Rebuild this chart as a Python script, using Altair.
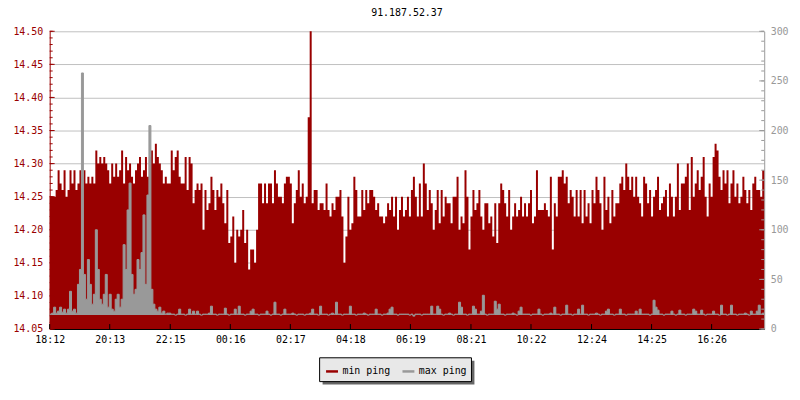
import altair as alt
import pandas as pd

FONT = "DejaVu Sans Mono"
title_text = "91.187.52.37"
start_stamp = "2024-01-01 18:12:00"
step_minutes = 4

min_ping = [
    14.25, 14.25, 14.25, 14.26, 14.29, 14.27, 14.26, 14.29, 14.25, 14.26,
    14.29, 14.27, 14.29, 14.26, 14.27, 14.29, 14.28, 14.29, 14.27, 14.28,
    14.27, 14.28, 14.27, 14.32, 14.30, 14.31, 14.30, 14.31, 14.30, 14.29,
    14.27, 14.30, 14.28, 14.30, 14.28, 14.29, 14.32, 14.27, 14.31, 14.29,
    14.30, 14.28, 14.27, 14.29, 14.30, 14.31, 14.28, 14.29, 14.31, 14.28,
    14.31, 14.32, 14.30, 14.33, 14.31, 14.30, 14.29, 14.27, 14.28, 14.27,
    14.27, 14.32, 14.29, 14.31, 14.32, 14.28, 14.27, 14.27, 14.31, 14.26,
    14.31, 14.30, 14.24, 14.26, 14.27, 14.26, 14.27, 14.20, 14.26, 14.23,
    14.24, 14.28, 14.26, 14.23, 14.26, 14.25, 14.27, 14.24, 14.21, 14.26,
    14.18, 14.19, 14.22, 14.15, 14.20, 14.19, 14.20, 14.23, 14.18, 14.20,
    14.14, 14.17, 14.17, 14.15, 14.20, 14.27, 14.27, 14.24, 14.27, 14.24,
    14.27, 14.27, 14.24, 14.29, 14.27, 14.25, 14.25, 14.24, 14.27, 14.28,
    14.28, 14.27, 14.21, 14.24, 14.26, 14.29, 14.25, 14.27, 14.24, 14.25,
    14.37, 14.50, 14.24, 14.26, 14.26, 14.23, 14.24, 14.24, 14.23, 14.27,
    14.23, 14.22, 14.24, 14.23, 14.25, 14.25, 14.26, 14.22, 14.15, 14.19,
    14.25, 14.20, 14.21, 14.28, 14.26, 14.22, 14.22, 14.26, 14.23, 14.26,
    14.24, 14.26, 14.26, 14.25, 14.23, 14.24, 14.22, 14.22, 14.21, 14.22,
    14.24, 14.23, 14.25, 14.22, 14.25, 14.20, 14.23, 14.25, 14.22, 14.23,
    14.25, 14.22, 14.26, 14.28, 14.25, 14.22, 14.27, 14.22, 14.30, 14.27,
    14.23, 14.26, 14.24, 14.20, 14.23, 14.26, 14.21, 14.26, 14.22, 14.25,
    14.24, 14.24, 14.21, 14.25, 14.25, 14.28, 14.20, 14.22, 14.21, 14.29,
    14.25, 14.17, 14.22, 14.26, 14.23, 14.24, 14.26, 14.22, 14.20, 14.24,
    14.24, 14.21, 14.22, 14.19, 14.24, 14.18, 14.24, 14.27, 14.26, 14.24,
    14.22, 14.26, 14.20, 14.22, 14.24, 14.22, 14.23, 14.25, 14.22, 14.24,
    14.22, 14.24, 14.26, 14.21, 14.22, 14.29, 14.23, 14.23, 14.23, 14.24,
    14.23, 14.22, 14.28, 14.17, 14.24, 14.22, 14.28, 14.28, 14.29, 14.27,
    14.28, 14.24, 14.26, 14.25, 14.22, 14.26, 14.22, 14.26, 14.21, 14.26,
    14.22, 14.24, 14.21, 14.26, 14.24, 14.28, 14.26, 14.24, 14.20, 14.28,
    14.23, 14.25, 14.21, 14.26, 14.22, 14.24, 14.24, 14.27, 14.28, 14.26,
    14.30, 14.28, 14.26, 14.28, 14.25, 14.28, 14.25, 14.24, 14.22, 14.28,
    14.27, 14.24, 14.26, 14.22, 14.25, 14.26, 14.28, 14.23, 14.24, 14.25,
    14.26, 14.22, 14.27, 14.25, 14.22, 14.25, 14.30, 14.23, 14.27, 14.27,
    14.28, 14.30, 14.23, 14.31, 14.25, 14.27, 14.29, 14.26, 14.28, 14.31,
    14.25, 14.22, 14.27, 14.25, 14.31, 14.33, 14.32, 14.28, 14.26, 14.29,
    14.27, 14.29, 14.24, 14.27, 14.29, 14.25, 14.27, 14.24, 14.25, 14.28,
    14.26, 14.24, 14.26, 14.23, 14.27, 14.28, 14.26, 14.26, 14.25, 14.29,
]

max_ping = [
    15, 16, 22, 16, 18, 22, 17, 20, 16, 20, 38, 18, 20, 16, 45, 60, 258, 55, 30, 70,
    45, 25, 35, 100, 60, 30, 25, 35, 55, 22, 35, 20, 18, 30, 35, 22, 30, 85, 60, 120,
    147, 55, 35, 40, 70, 60, 77, 115, 45, 135, 205, 40, 25, 20, 18, 22, 16, 18, 15, 16,
    16, 15, 15, 14, 15, 20, 15, 15, 14, 15, 20, 15, 18, 15, 18, 15, 14, 15, 15, 15,
    16, 23, 15, 15, 14, 15, 15, 15, 21, 15, 14, 15, 15, 20, 15, 23, 15, 15, 14, 15,
    15, 18, 20, 15, 15, 14, 15, 15, 15, 18, 15, 14, 15, 27, 15, 15, 14, 15, 20, 15,
    15, 15, 16, 15, 14, 15, 15, 15, 14, 15, 15, 16, 20, 15, 15, 14, 23, 15, 15, 15,
    14, 15, 16, 15, 27, 15, 15, 14, 15, 15, 15, 23, 15, 15, 14, 15, 15, 15, 16, 15,
    14, 15, 15, 15, 20, 15, 15, 14, 15, 15, 16, 20, 22, 15, 15, 14, 15, 15, 15, 15,
    15, 14, 15, 13, 15, 15, 15, 14, 15, 15, 15, 15, 23, 15, 15, 23, 20, 15, 14, 15,
    15, 16, 15, 14, 15, 15, 27, 22, 15, 15, 14, 15, 15, 23, 20, 15, 15, 18, 34, 15,
    14, 15, 15, 15, 28, 20, 25, 15, 15, 14, 15, 15, 15, 16, 15, 14, 18, 22, 15, 15,
    15, 15, 14, 15, 15, 15, 20, 15, 14, 15, 15, 15, 16, 15, 22, 15, 15, 14, 15, 15,
    24, 15, 15, 14, 15, 15, 20, 15, 24, 15, 15, 14, 15, 15, 15, 16, 15, 14, 15, 15,
    18, 20, 15, 15, 14, 15, 15, 20, 15, 15, 14, 15, 15, 15, 15, 18, 15, 20, 15, 15,
    15, 15, 14, 15, 29, 22, 19, 15, 15, 14, 15, 15, 15, 18, 15, 14, 15, 19, 15, 15,
    14, 15, 15, 15, 20, 18, 15, 15, 19, 15, 14, 15, 15, 15, 18, 15, 15, 14, 24, 15,
    15, 14, 15, 24, 15, 15, 14, 15, 15, 15, 16, 15, 14, 18, 15, 15, 18, 24, 15, 16,
]

x_labels = ["18:12", "20:13", "22:15", "00:16", "02:17", "04:18",
            "06:19", "08:21", "10:22", "12:24", "14:25", "16:26"]
left_labels = [14.05, 14.10, 14.15, 14.20, 14.25, 14.30, 14.35, 14.40, 14.45, 14.50]
left_minor = [round(14.05 + 0.01 * i, 2) for i in range(46)]
right_labels = [0, 50, 100, 150, 200, 250, 300]
right_minor = list(range(0, 301, 10))
series_names = ["min ping", "max ping"]
series_colors = ["#990000", "#999999"]
grid_color = "#c0c0c0"

# ---- build tables ----
start = pd.Timestamp(start_stamp)
n = len(min_ping)
times = [start + pd.Timedelta(minutes=step_minutes * i) for i in range(n + 1)]
end = times[-1]
iso = lambda t: t.strftime("%Y-%m-%dT%H:%M:%S")
df = pd.DataFrame({
    "t": [iso(t) for t in times],
    "minp": min_ping + [min_ping[-1]],
    "maxp": max_ping + [max_ping[-1]],
    "series": series_names[1],
})


def label_time(s):
    h, m = map(int, s.split(":"))
    t = start.normalize() + pd.Timedelta(hours=h, minutes=m)
    if t < start:
        t += pd.Timedelta(days=1)
    return t


label_times = [label_time(s) for s in x_labels]
dt = lambda t: alt.DateTime(year=t.year, month=t.month, date=t.day, hours=t.hour, minutes=t.minute)
xdomain = alt.Scale(domain=[dt(start), dt(end)])
xticks_df = pd.DataFrame({"t": [iso(t) for t in label_times]})

yl_scale = alt.Scale(domain=[14.05, 14.50], zero=False, nice=False)
yr_scale = alt.Scale(domain=[0, 300], zero=False, nice=False)

x_axis = alt.Axis(values=[dt(t) for t in label_times], format="%H:%M", title=None,
                  labelFont=FONT, labelFontSize=10, labelColor="black",
                  domainColor="black", ticks=False, grid=False, labelPadding=6,
                  labelFlush=False, labelOverlap=False)
left_axis = alt.Axis(orient="left", values=left_labels, format=".2f", title=None,
                     labelFont=FONT, labelFontSize=10, labelColor=series_colors[0],
                     domainColor=series_colors[0], ticks=False, grid=True,
                     gridColor=grid_color, labelPadding=7)
right_axis = alt.Axis(orient="right", values=right_labels, title=None,
                      labelFont=FONT, labelFontSize=10, labelColor=series_colors[1],
                      domainColor=series_colors[1], ticks=False, grid=False,
                      labelPadding=6)

X = lambda: alt.X("t:T", scale=xdomain, axis=x_axis)

area = alt.Chart(df).mark_area(interpolate="step-after", color=series_colors[0]).encode(
    x=X(),
    y=alt.Y("minp:Q", scale=yl_scale, axis=left_axis),
    y2=alt.datum(14.05),
)

lmin = alt.Chart(pd.DataFrame({"v": left_minor})).mark_rule(color=series_colors[0]).encode(
    y=alt.Y("v:Q", scale=yl_scale, axis=left_axis), x=alt.value(0), x2=alt.value(3))
lmaj = alt.Chart(pd.DataFrame({"v": left_labels})).mark_rule(color=series_colors[0]).encode(
    y=alt.Y("v:Q", scale=yl_scale, axis=left_axis), x=alt.value(0), x2=alt.value(5))
xt = alt.Chart(xticks_df).mark_rule(color="black").encode(
    x=X(), y=alt.value(295), y2=alt.value(300))

left = alt.layer(area, lmin, lmaj, xt)

gray_fill = alt.Chart(df).mark_area(interpolate="step-after", color=series_colors[1]).encode(
    x=X(),
    y=alt.Y("maxp:Q", scale=yr_scale, axis=right_axis),
    y2=alt.datum(14),
)
gray_line = alt.Chart(df).mark_line(interpolate="step-after", strokeWidth=1).encode(
    x=X(),
    y=alt.Y("maxp:Q", scale=yr_scale, axis=right_axis),
    color=alt.Color("series:N",
                    scale=alt.Scale(domain=series_names, range=series_colors),
                    legend=alt.Legend(orient="none", legendX=277, legendY=335,
                                      direction="horizontal", title=None,
                                      symbolType="stroke", symbolSize=144,
                                      symbolStrokeWidth=2.5, labelFont=FONT,
                                      labelFontSize=10, labelColor="black",
                                      labelOffset=3, columnPadding=6, padding=0)),
)
rmin = alt.Chart(pd.DataFrame({"v": right_minor})).mark_rule(color=series_colors[1]).encode(
    y=alt.Y("v:Q", scale=yr_scale, axis=right_axis), x=alt.value(717), x2=alt.value(720))
rmaj = alt.Chart(pd.DataFrame({"v": right_labels})).mark_rule(color=series_colors[1]).encode(
    y=alt.Y("v:Q", scale=yr_scale, axis=right_axis), x=alt.value(715), x2=alt.value(720))

one = pd.DataFrame({"k": [0]})
shadow = alt.Chart(one).mark_rect(fill="#666666").encode(
    x=alt.value(275), x2=alt.value(428), y=alt.value(332), y2=alt.value(356))
box = alt.Chart(one).mark_rect(fill="#e8e8e8", stroke="black", strokeWidth=1).encode(
    x=alt.value(272), x2=alt.value(425), y=alt.value(329), y2=alt.value(353))

right = alt.layer(gray_fill, gray_line, rmin, rmaj, shadow, box)

chart = alt.layer(left, right).resolve_scale(y="independent").properties(
    width=720, height=300,
    autosize=alt.AutoSizeParams(type="none"),
    padding={"left": 42, "top": 22, "right": 28, "bottom": 62},
    title=alt.TitleParams(title_text, font=FONT, fontSize=10, fontWeight="normal",
                          color="black", anchor="middle", frame="group", offset=8),
).configure_view(stroke=None)

chart.save("out.html", embed_options={"renderer": "svg", "actions": False})
